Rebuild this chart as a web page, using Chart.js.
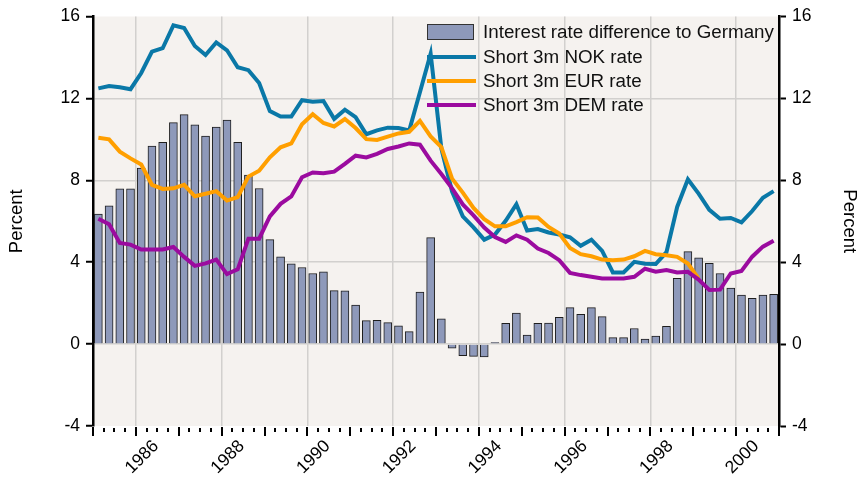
<!DOCTYPE html>
<html>
<head>
<meta charset="utf-8">
<script src="https://cdn.jsdelivr.net/npm/chart.js@4"></script>
<style>
  html, body { margin: 0; padding: 0; background: #fff; }
  #wrap { width: 862px; height: 478px; }
</style>
</head>
<body>
<div id="wrap"><canvas id="chart" width="862" height="478"></canvas></div>
<script>
// quarterly observations 1985Q1 - 2000Q4
const quarters = [
  '1985Q1','1985Q2','1985Q3','1985Q4','1986Q1','1986Q2','1986Q3','1986Q4',
  '1987Q1','1987Q2','1987Q3','1987Q4','1988Q1','1988Q2','1988Q3','1988Q4',
  '1989Q1','1989Q2','1989Q3','1989Q4','1990Q1','1990Q2','1990Q3','1990Q4',
  '1991Q1','1991Q2','1991Q3','1991Q4','1992Q1','1992Q2','1992Q3','1992Q4',
  '1993Q1','1993Q2','1993Q3','1993Q4','1994Q1','1994Q2','1994Q3','1994Q4',
  '1995Q1','1995Q2','1995Q3','1995Q4','1996Q1','1996Q2','1996Q3','1996Q4',
  '1997Q1','1997Q2','1997Q3','1997Q4','1998Q1','1998Q2','1998Q3','1998Q4',
  '1999Q1','1999Q2','1999Q3','1999Q4','2000Q1','2000Q2','2000Q3','2000Q4'
];

const rateDiff = [
  6.35, 6.75, 7.58, 7.58, 8.6, 9.67, 9.85, 10.82,
  11.21, 10.71, 10.16, 10.6, 10.94, 9.85, 8.25, 7.6,
  5.1, 4.26, 3.92, 3.74, 3.45, 3.53, 2.61, 2.6,
  1.9, 1.15, 1.16, 1.05, 0.89, 0.61, 2.54, 5.2,
  1.23, -0.2, -0.57, -0.6, -0.63, 0.08, 1.02, 1.52,
  0.44, 1.02, 1.03, 1.31, 1.78, 1.46, 1.78, 1.34,
  0.32, 0.32, 0.76, 0.24, 0.39, 0.87, 3.21, 4.52,
  4.21, 3.94, 3.45, 2.74, 2.4, 2.24, 2.4, 2.43
];

const nokRate = [
  12.49, 12.6, 12.54, 12.45, 13.24, 14.28, 14.45, 15.57,
  15.44, 14.56, 14.12, 14.73, 14.35, 13.52, 13.38, 12.75,
  11.38, 11.11, 11.11, 11.91, 11.84, 11.87, 11.0, 11.45,
  11.08, 10.25, 10.44, 10.57, 10.55, 10.43, 12.3, 14.18,
  9.55, 7.45, 6.24, 5.7, 5.1, 5.35, 6.02, 6.83,
  5.55, 5.62, 5.45, 5.35, 5.22, 4.8, 5.1, 4.55,
  3.5, 3.5, 4.02, 3.92, 3.91, 4.49, 6.7, 8.05,
  7.35, 6.56, 6.12, 6.16, 5.95, 6.5, 7.15, 7.47
];

const eurRate = [
  10.08, 10.0, 9.4, 9.07, 8.77, 7.78, 7.58, 7.61,
  7.78, 7.22, 7.34, 7.47, 7.01, 7.18, 8.18, 8.47,
  9.12, 9.61, 9.8, 10.74, 11.23, 10.8, 10.63, 10.99,
  10.55, 10.01, 9.97, 10.13, 10.29, 10.37, 10.9, 10.14,
  9.62, 8.08, 7.4, 6.65, 6.1, 5.75, 5.75, 5.96,
  6.2, 6.18, 5.72, 5.4, 4.7, 4.39, 4.29, 4.13,
  4.1, 4.13, 4.29, 4.55, 4.39, 4.34, 4.26, 3.94,
  3.2, null, null, null, null, null, null, null
];

const demRate = [
  6.12, 5.85, 4.94, 4.86, 4.62, 4.62, 4.62, 4.74,
  4.26, 3.82, 3.94, 4.13, 3.42, 3.65, 5.15, 5.15,
  6.24, 6.85, 7.21, 8.15, 8.38, 8.34, 8.42, 8.8,
  9.2, 9.12, 9.29, 9.53, 9.65, 9.8, 9.74, 8.96,
  8.31, 7.61, 6.82, 6.29, 5.69, 5.23, 4.99, 5.31,
  5.1, 4.67, 4.45, 4.1, 3.48, 3.37, 3.29, 3.21,
  3.21, 3.21, 3.29, 3.68, 3.54, 3.62, 3.5, 3.53,
  3.15, 2.64, 2.66, 3.45, 3.57, 4.27, 4.76, 5.05
];

const yTicks = [-4, 0, 4, 8, 12, 16];
const xLabelYears = [1986, 1988, 1990, 1992, 1994, 1996, 1998, 2000];

const seriesNames = [
  'Interest rate difference to Germany',
  'Short 3m NOK rate',
  'Short 3m EUR rate',
  'Short 3m DEM rate'
];

// place each quarter in the middle of its period on the time axis
function quarterX(label) {
  const year = parseInt(label.slice(0, 4), 10);
  const q = parseInt(label.slice(5), 10);
  return year + (q - 0.5) / 4;
}
function toPoints(values) {
  return values.map((v, i) => ({ x: quarterX(quarters[i]), y: v }));
}

const FONT = "'Liberation Sans', Arial, sans-serif";
const colBar = '#8e99ba';
const colNok = '#0a78a7';
const colEur = '#ff9f00';
const colDem = '#9b0b9f';

const plotBg = {
  id: 'plotBg',
  beforeDraw(chart) {
    const { ctx, chartArea: a } = chart;
    ctx.save();
    ctx.fillStyle = '#f5f2ef';
    ctx.fillRect(a.left, a.top, a.right - a.left, a.bottom - a.top);
    ctx.restore();
  }
};

// quarterly minor ticks and yearly major ticks under the plot
const timeTicks = {
  id: 'timeTicks',
  afterDraw(chart) {
    const { ctx, chartArea: a } = chart;
    const xs = chart.scales.x;
    ctx.save();
    ctx.strokeStyle = '#000';
    ctx.lineWidth = 2;
    for (let y = 1985; y <= 2001; y++) {
      for (let q = 0; q < 4; q++) {
        if (y === 2001 && q > 0) break;
        const px = Math.round(xs.getPixelForValue(y + q / 4));
        ctx.beginPath();
        if (q === 0) {
          ctx.moveTo(px, a.bottom + 1);
          ctx.lineTo(px, a.bottom + 10);
        } else {
          ctx.moveTo(px, a.bottom + 2);
          ctx.lineTo(px, a.bottom + 6);
        }
        ctx.stroke();
      }
    }
    ctx.restore();
  }
};

const boxLegend = {
  id: 'boxLegend',
  afterDatasetsDraw(chart) {
    const { ctx } = chart;
    const x0 = 427, x1 = 476, tx = 483;
    const rows = [32, 57, 81, 105];
    ctx.save();
    ctx.font = '18.8px ' + FONT;
    ctx.textBaseline = 'middle';
    // bar entry
    ctx.fillStyle = colBar;
    ctx.fillRect(x0, rows[0] - 8, x1 - x0 - 2, 16);
    ctx.strokeStyle = '#333';
    ctx.lineWidth = 1;
    ctx.strokeRect(x0 + 0.5, rows[0] - 7.5, x1 - x0 - 3, 15);
    // line entries
    const cols = [colNok, colEur, colDem];
    for (let i = 0; i < 3; i++) {
      ctx.strokeStyle = cols[i];
      ctx.lineWidth = 4;
      ctx.beginPath();
      ctx.moveTo(x0, rows[i + 1]);
      ctx.lineTo(x1, rows[i + 1]);
      ctx.stroke();
    }
    ctx.fillStyle = '#111';
    seriesNames.forEach((name, i) => ctx.fillText(name, tx, rows[i] + 1));
    ctx.restore();
  }
};

const yGridColor = (c) => (c.tick && c.tick.value > -4 && c.tick.value < 16) ? '#d2d0ce' : 'rgba(0,0,0,0)';

new Chart(document.getElementById('chart'), {
  type: 'bar',
  data: {
    datasets: [
      {
        type: 'line', label: seriesNames[3], data: toPoints(demRate),
        borderColor: colDem, borderWidth: 4, pointRadius: 0, tension: 0, order: 1
      },
      {
        type: 'line', label: seriesNames[2], data: toPoints(eurRate),
        borderColor: colEur, borderWidth: 4, pointRadius: 0, tension: 0, order: 2, spanGaps: false
      },
      {
        type: 'line', label: seriesNames[1], data: toPoints(nokRate),
        borderColor: colNok, borderWidth: 4, pointRadius: 0, tension: 0, order: 3
      },
      {
        type: 'bar', label: seriesNames[0], data: toPoints(rateDiff),
        backgroundColor: colBar, borderColor: '#1e1e1e', borderWidth: 1,
        barThickness: 8, order: 4
      }
    ]
  },
  options: {
    responsive: false,
    animation: false,
    layout: { padding: { top: 15, left: 0, right: 0, bottom: 0 } },
    plugins: { legend: { display: false }, tooltip: { enabled: false } },
    scales: {
      x: {
        type: 'linear',
        min: 1985, max: 2001,
        offset: false,
        grid: {
          offset: false,
          drawTicks: false,
          lineWidth: 1.5,
          color: (c) => (c.tick && xLabelYears.includes(c.tick.value)) ? '#d2d0ce' : 'rgba(0,0,0,0)'
        },
        border: { display: false },
        afterBuildTicks: (s) => { s.ticks = xLabelYears.map(v => ({ value: v })); },
        afterFit: (s) => { s.height = 52; },
        ticks: {
          autoSkip: false,
          minRotation: 45, maxRotation: 45,
          labelOffset: 20,
          padding: 10,
          color: '#000',
          font: { family: FONT, size: 17.5 },
          callback: (v) => String(v)
        }
      },
      y: {
        position: 'left',
        min: -4, max: 16,
        afterBuildTicks: (s) => { s.ticks = yTicks.map(v => ({ value: v })); },
        afterFit: (s) => { s.width = 93; },
        grid: { color: yGridColor, lineWidth: 1.5, tickColor: '#000', tickWidth: 2, tickLength: 7 },
        border: { color: '#000', width: 2.5 },
        ticks: { color: '#000', padding: 6, font: { family: FONT, size: 17.5 } },
        title: { display: true, text: 'Percent', color: '#000', padding: { top: 6 }, font: { family: FONT, size: 18.5 } }
      },
      y2: {
        position: 'right',
        min: -4, max: 16,
        afterBuildTicks: (s) => { s.ticks = yTicks.map(v => ({ value: v })); },
        afterFit: (s) => { s.width = 83; },
        grid: { drawOnChartArea: false, tickColor: '#000', tickWidth: 2, tickLength: 7 },
        border: { color: '#000', width: 2.5 },
        ticks: { color: '#000', padding: 6, font: { family: FONT, size: 17.5 } },
        title: { display: true, text: 'Percent', color: '#000', padding: { top: 2 }, font: { family: FONT, size: 18.5 } }
      }
    }
  },
  plugins: [plotBg, timeTicks, boxLegend]
});
</script>
</body>
</html>
